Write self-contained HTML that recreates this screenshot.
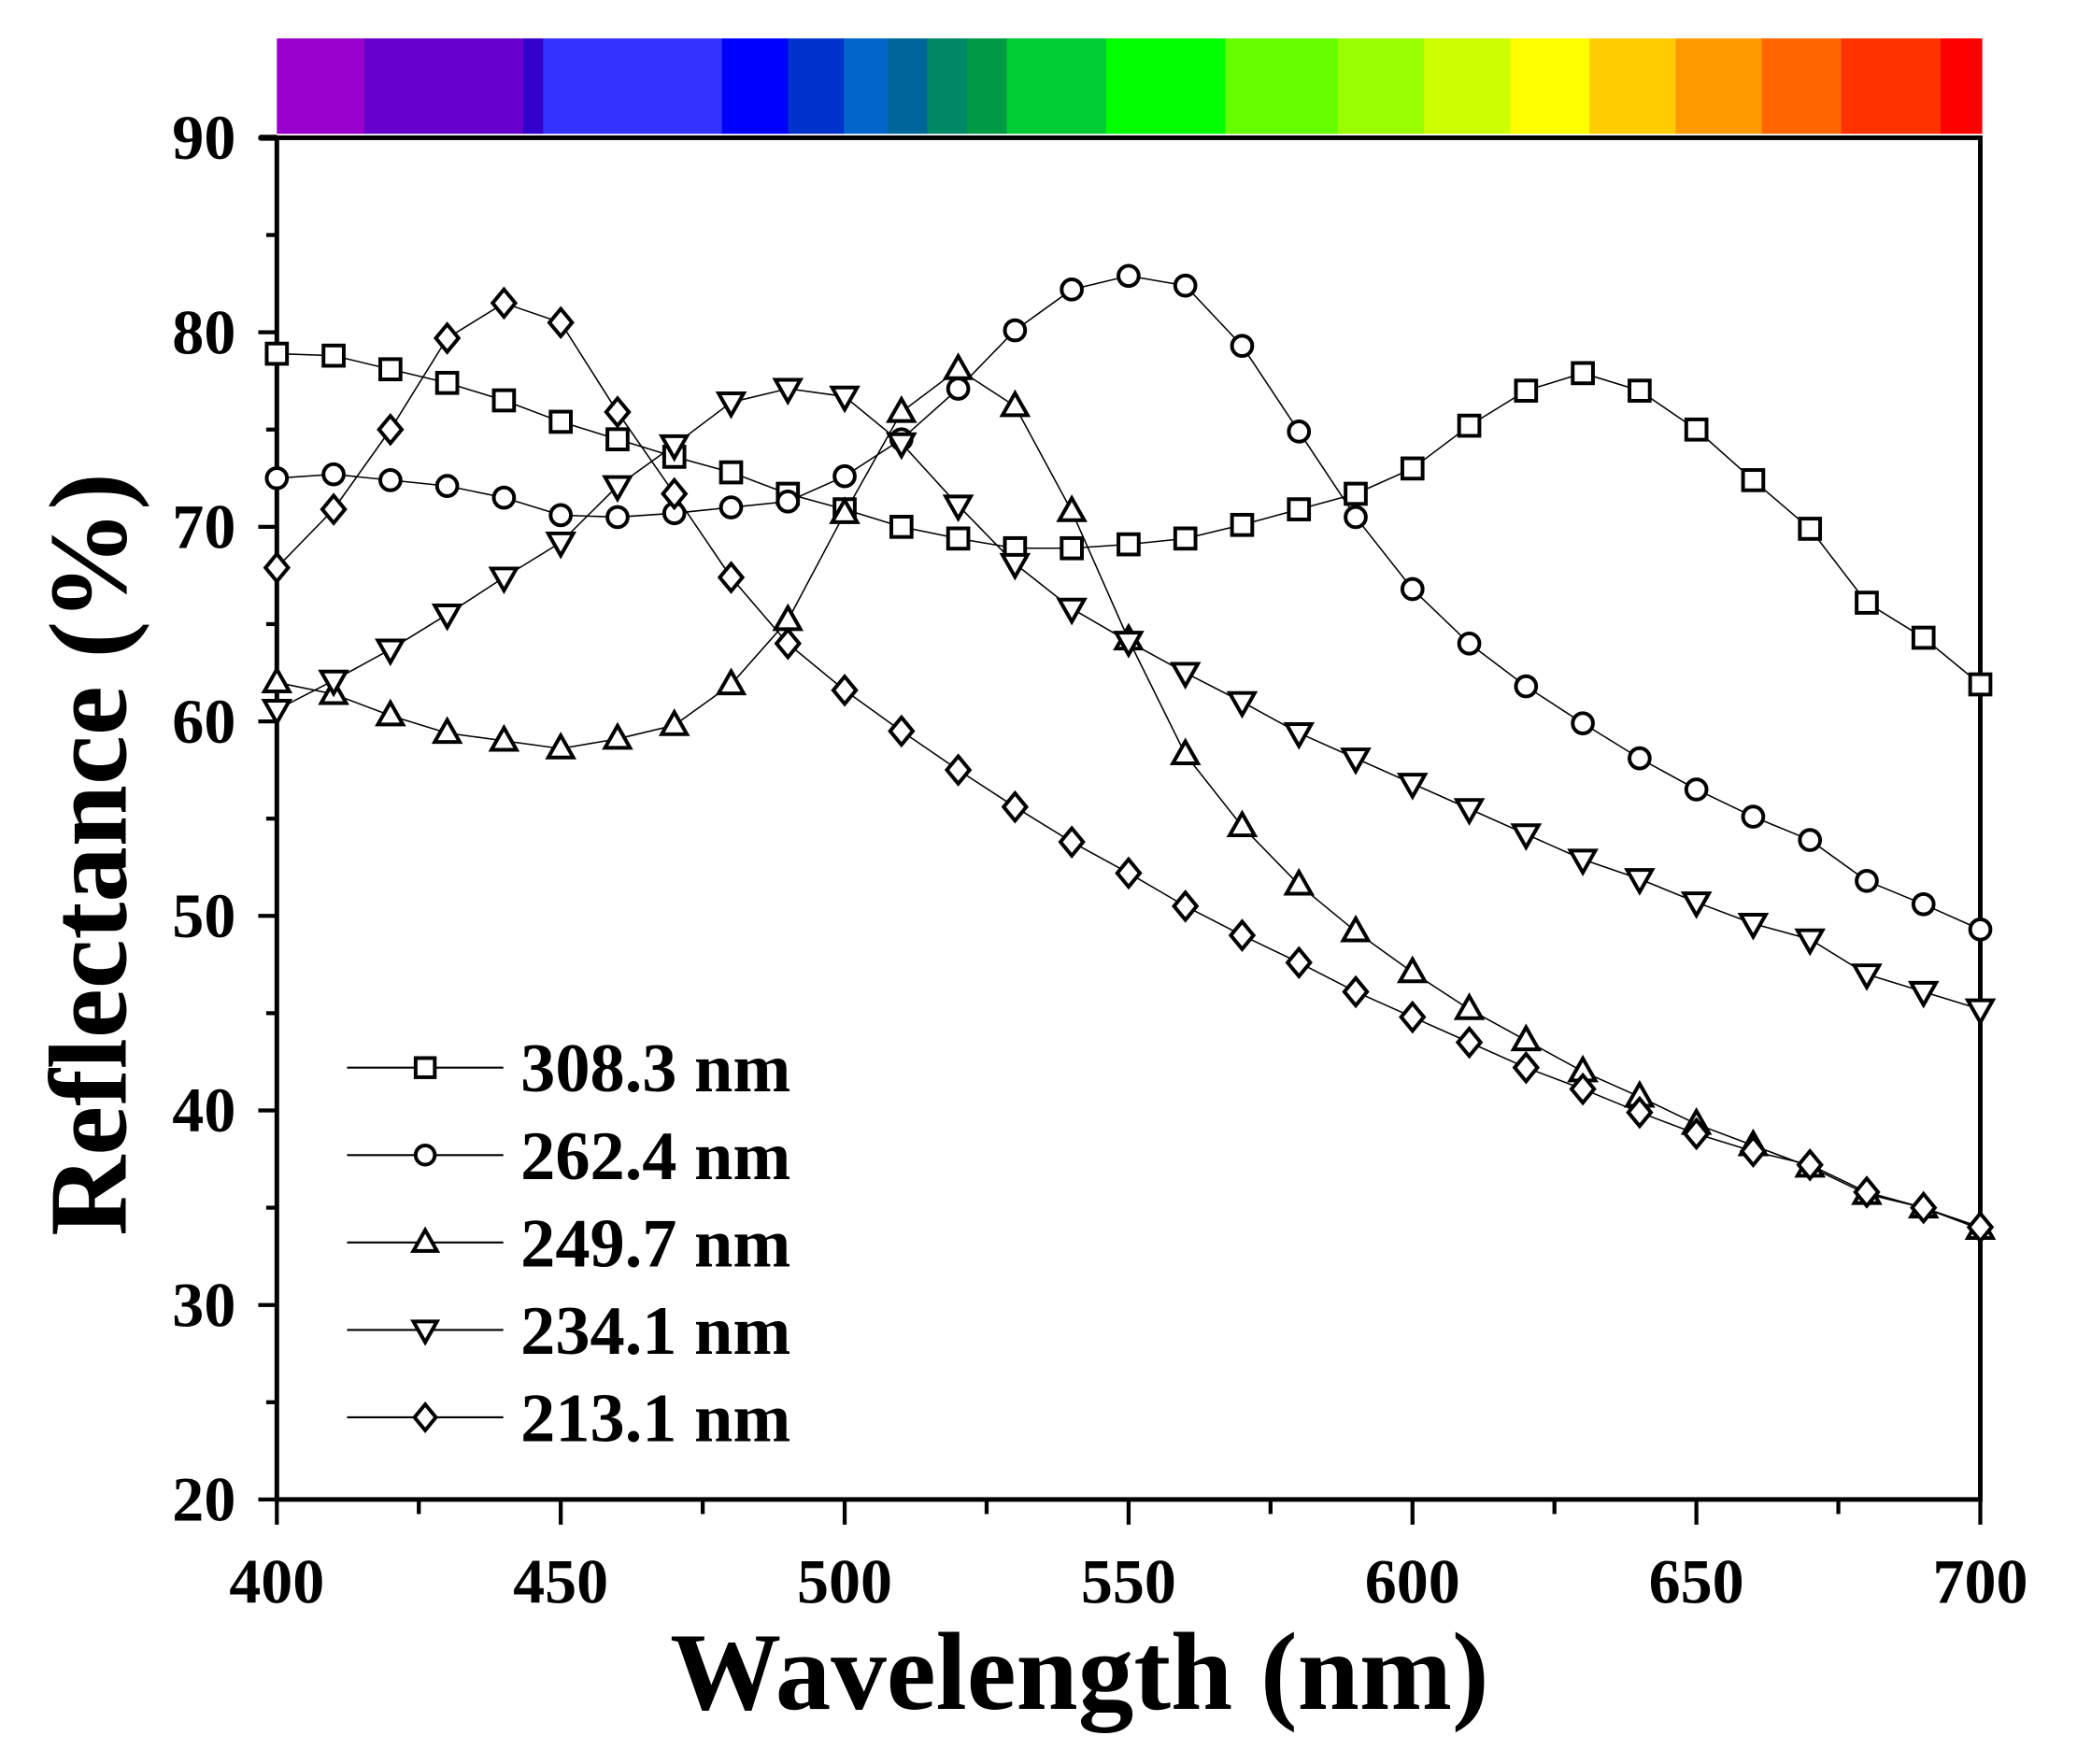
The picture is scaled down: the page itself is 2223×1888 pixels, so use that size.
<!DOCTYPE html>
<html><head><meta charset="utf-8"><style>
html,body{margin:0;padding:0;background:#fff;}
svg{display:block;}
text{font-family:"Liberation Serif",serif;font-weight:bold;fill:#000;}
</style></head><body>
<svg id="s" width="2223" height="1888" viewBox="0 0 1568 1331.7" preserveAspectRatio="none" xmlns="http://www.w3.org/2000/svg">
<g id="bar"></g>
<g id="axes" stroke="#000" fill="none"></g>
<g id="series"></g>
<g id="labels"></g>
<text x="0" y="0" font-size="84" text-anchor="middle" transform="translate(95,645) rotate(-90)">Reflectance (%)</text>
<text x="815" y="1290" font-size="84" text-anchor="middle">Wavelength (nm)</text>
</svg>
<script>
var NS="http://www.w3.org/2000/svg";
function el(p,t,a,txt){var e=document.createElementNS(NS,t);for(var k in a)e.setAttribute(k,a[k]);if(txt!=null)e.textContent=txt;document.getElementById(p).appendChild(e);return e;}
var X=function(w){return 209+(w-400)*4.2867;}, Y=function(v){return 104+(90-v)*14.686;};
var segs=[[209,275,"#9900cc"],[275,395,"#6600cc"],[395,410,"#3300cc"],[410,545,"#3333ff"],[545,595,"#0000ff"],[595,637,"#0033cc"],[637,670,"#0066cc"],[670,700,"#006699"],[700,730,"#008866"],[730,760,"#009944"],[760,835,"#00cc33"],[835,925,"#00ff00"],[925,1010,"#66ff00"],[1010,1075,"#99ff00"],[1075,1140,"#ccff00"],[1140,1200,"#ffff00"],[1200,1265,"#ffcc00"],[1265,1330,"#ff9900"],[1330,1390,"#ff6600"],[1390,1465,"#ff3300"],[1465,1496,"#ff0000"]];
segs.forEach(function(s){el("bar","rect",{x:s[0],y:29,width:s[1]-s[0]+0.5,height:72,fill:s[2]});});
el("axes","rect",{x:209,y:104,width:1286,height:1028,"stroke-width":3.5});
el("axes","line",{x1:196,y1:104,x2:209,y2:104,"stroke-width":4.5});
for(var v=20;v<=90;v+=5){var maj=v%10==0;el("axes","line",{x1:maj?195:201,y1:Y(v),x2:209,y2:Y(v),"stroke-width":3});
 if(maj)el("labels","text",{x:178,y:Y(v)+16,"font-size":48,"text-anchor":"end"},String(v));}
for(var w=400;w<=700;w+=25){var maj=w%50==0;el("axes","line",{x1:X(w),y1:1132,x2:X(w),y2:maj?1151:1143,"stroke-width":3});
 if(maj)el("labels","text",{x:X(w),y:1210,"font-size":48,"text-anchor":"middle"},String(w));}
var D={
sq:[78.9,78.8,78.1,77.4,76.5,75.4,74.5,73.6,72.8,71.7,70.9,70.0,69.4,68.9,68.9,69.1,69.4,70.1,70.9,71.7,73.0,75.2,77.0,77.9,77.0,75.0,72.4,69.9,66.1,64.3,61.9],
ci:[72.5,72.7,72.4,72.1,71.5,70.6,70.5,70.7,71.0,71.3,72.6,74.5,77.1,80.1,82.2,82.9,82.4,79.3,74.9,70.5,66.8,64.0,61.8,59.9,58.1,56.5,55.1,53.9,51.8,50.6,49.3],
tu:[62.0,61.4,60.3,59.4,59.0,58.6,59.1,59.8,61.9,65.2,70.7,75.9,78.1,76.2,70.8,64.2,58.3,54.6,51.6,49.2,47.1,45.2,43.6,42.0,40.7,39.3,38.2,37.1,35.7,35.0,33.9],
td:[60.6,62.1,63.7,65.5,67.4,69.2,72.1,74.2,76.4,77.1,76.7,74.3,71.1,68.1,65.8,64.1,62.5,61.0,59.4,58.1,56.8,55.5,54.2,52.9,51.9,50.7,49.6,48.8,47.0,46.1,45.2],
di:[67.9,70.9,75.0,79.7,81.5,80.5,75.9,71.7,67.4,64.0,61.6,59.5,57.5,55.6,53.8,52.2,50.5,49.0,47.6,46.1,44.8,43.5,42.2,41.1,39.9,38.8,37.9,37.2,35.8,35.0,34.0]};
function marker(t,x,y,s){var a={fill:"#fff",stroke:"#000","stroke-width":2.8};
 if(t=="sq"){a.x=x-s*0.85;a.y=y-s*0.85;a.width=s*1.7;a.height=s*1.7;return el("series","rect",a);}
 if(t=="ci"){a.cx=x;a.cy=y;a.r=s*0.85;return el("series","circle",a);}
 if(t=="tu"){a.points=[x,y-s*1.1,x+s*1.05,y+s*0.75,x-s*1.05,y+s*0.75].join(",");return el("series","polygon",a);}
 if(t=="td"){a.points=[x,y+s*1.1,x+s*1.05,y-s*0.75,x-s*1.05,y-s*0.75].join(",");return el("series","polygon",a);}
 a.points=[x,y-s*1.15,x+s*0.95,y,x,y+s*1.15,x-s*0.95,y].join(",");return el("series","polygon",a);}
["sq","ci","tu","td","di"].forEach(function(k){var pts=D[k].map(function(v,i){return X(400+10*i)+","+Y(v);}).join(" ");
 el("series","polyline",{points:pts,fill:"none",stroke:"#000","stroke-width":1.1});});
["sq","ci","tu","td","di"].forEach(function(k){D[k].forEach(function(v,i){marker(k,X(400+10*i),Y(v),9);});});
var names=["308.3 nm","262.4 nm","249.7 nm","234.1 nm","213.1 nm"];
["sq","ci","tu","td","di"].forEach(function(k,i){var y=806+i*66;
 el("series","line",{x1:262,y1:y,x2:380,y2:y,stroke:"#000","stroke-width":1.5});marker(k,321,y,8.5);
 el("labels","text",{x:393,y:y+18,"font-size":52,textLength:204,lengthAdjust:"spacingAndGlyphs"},names[i]);});
</script>
</body></html>
